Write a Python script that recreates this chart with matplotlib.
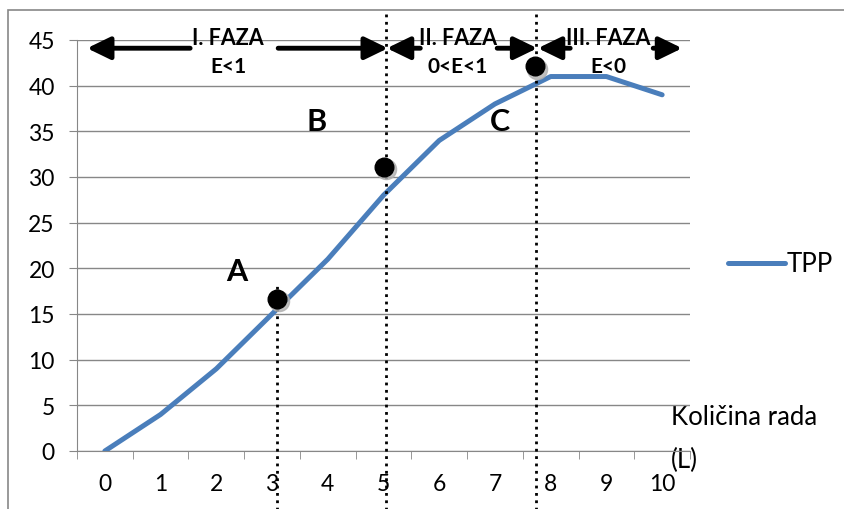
import numpy as np
import matplotlib.pyplot as plt
from matplotlib.patches import Rectangle
from matplotlib.transforms import offset_copy

plt.rcParams['font.family'] = ['Lato', 'DejaVu Sans']

# TPP krivulja
kolicina_rada = [0, 1, 2, 3, 4, 5, 6, 7, 8, 9, 10]
tpp = [0, 4, 9, 15, 21, 28, 34, 38, 41, 41, 39]

# tocke A, B, C
tocke = ['A', 'B', 'C']
tocke_x = [3.09, 5.0, 7.72]
tocke_y = [16.6, 31.1, 42.1]

# faze
faze = ['I. FAZA', 'II. FAZA', 'III. FAZA']
elasticnost = ['E<1', '0<E<1', 'E<0']

grid_col = '#878787'
blue = '#4A7EBB'

fig = plt.figure(figsize=(8.44, 5.10), dpi=100)
ax = fig.add_axes([77 / 844, 58 / 510, 613 / 844, 411 / 510])

# okvir grafikona
fig.patches.append(Rectangle((8 / 844, -0.1), 1.2, 0.1 + 499 / 510, transform=fig.transFigure,
                             fill=False, edgecolor=grid_col, lw=1.2))

ax.plot(kolicina_rada, tpp, color=blue, lw=3.6, label='TPP', solid_capstyle='round', zorder=3)

ax.set_xlim(-0.5, 10.5)
ax.set_ylim(0, 45)
ax.set_yticks(np.arange(0, 46, 5))
ax.set_xticks(kolicina_rada)
ax.set_xticks(np.arange(-0.5, 11, 1), minor=True)
ax.grid(axis='y', color=grid_col, lw=1)
ax.set_axisbelow(True)
for s in ['top', 'right']:
    ax.spines[s].set_visible(False)
for s in ['left', 'bottom']:
    ax.spines[s].set_color(grid_col)
ax.tick_params(axis='y', length=6, color=grid_col, labelsize=16.5, pad=10)
ax.tick_params(axis='x', which='major', length=0, labelsize=16.5, pad=16)
ax.tick_params(axis='x', which='minor', length=6, color=grid_col)

# vertikalne tockaste linije
ax.plot([5.04, 5.04], [-7, 48.2], ls=':', color='black', lw=2, clip_on=False, zorder=4)
ax.plot([7.74, 7.74], [-7, 48.2], ls=':', color='black', lw=2, clip_on=False, zorder=4)
ax.plot([3.09, 3.09], [-7, 18.3], ls=':', color='black', lw=2, clip_on=False, zorder=4)

# tocke sa sjenom
shadow = offset_copy(ax.transData, fig=fig, x=1.5, y=-1.5, units='points')
ax.scatter(tocke_x, tocke_y, s=210, color='#b0b0b0', alpha=0.8, transform=shadow, zorder=5)
ax.scatter(tocke_x, tocke_y, s=180, color='black', zorder=6)

for lab, lx, ly in zip(tocke, [2.37, 3.8, 7.09], [19.7, 36.1, 36.1]):
    ax.text(lx, ly, lab, fontsize=22, fontweight='bold', ha='center', va='center')

# strelice faza
arrow_y = 44.1
strelice = [(1.53, -0.32), (3.11, 5.08), (5.66, 5.06), (7.04, 7.76), (8.35, 7.77), (9.84, 10.36)]
for x0, x1 in strelice:
    ax.annotate('', xy=(x1, arrow_y), xytext=(x0, arrow_y), annotation_clip=False,
                arrowprops=dict(arrowstyle='-|>,head_length=0.7,head_width=0.34',
                                mutation_scale=20, color='black', lw=3.5,
                                shrinkA=0, shrinkB=0))

for f, e, cx in zip(faze, elasticnost, [2.21, 6.33, 9.03]):
    ax.text(cx, 45.3, f, fontsize=15.5, fontweight='bold', ha='center', va='center')
    ax.text(cx, 42.2, e, fontsize=15, fontweight='bold', ha='center', va='center')

ax.set_xlabel('Količina rada\n(L)', fontsize=18.5, ha='left', va='center', linespacing=1.85)
ax.xaxis.set_label_coords((671 - 77) / 613, (452 - 439) / 411)

ax.legend(loc='center left', bbox_to_anchor=(728 / 844, 1 - 265 / 510), bbox_transform=fig.transFigure,
          frameon=False, fontsize=18.5, handlelength=2.2, handletextpad=0.1, borderpad=0, borderaxespad=0)

fig.savefig('out.png', dpi=100)
